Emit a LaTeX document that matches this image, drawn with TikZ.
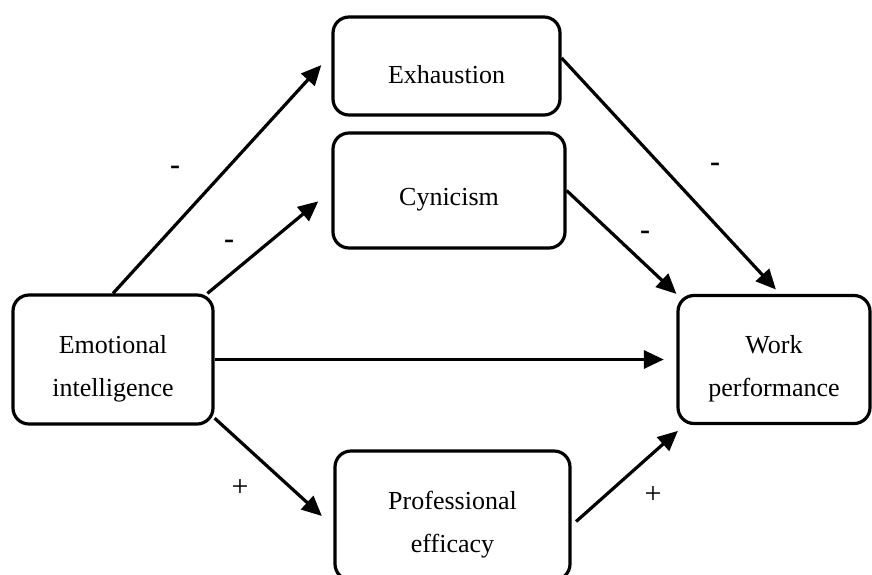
\documentclass[tikz,border=0pt]{standalone}
\usepackage{fontspec}
\setmainfont{Liberation Serif}
\usetikzlibrary{arrows.meta}
% extra room above the first line, so that the text sits a little low in its box
\newcommand{\boxpad}{\rule{0pt}{36pt}}
\begin{document}
\begin{tikzpicture}[x=1pt,y=-1pt,
  box/.style={draw, line width=3.2pt, rounded corners=16pt, align=center,
    inner sep=0pt, font=\fontsize{26pt}{43pt}\selectfont},
  arr/.style={line width=3.2pt, -{Triangle[length=20pt,width=18pt]}},
  sign/.style={inner sep=0pt, font=\fontsize{30pt}{30pt}\selectfont},
  minus/.style={sign, font=\fontsize{30pt}{30pt}\selectfont\bfseries}]
\useasboundingbox (0,0) rectangle (872,574);
\begin{scope}
\clip (0,0) rectangle (872,574);

% variables
\node[box, minimum width=227pt, minimum height=98pt]  (exh) at (446.5,66)    {\boxpad Exhaustion};
\node[box, minimum width=232pt, minimum height=115pt] (cyn) at (449,190.5)   {\boxpad Cynicism};
\node[box, minimum width=200pt, minimum height=129pt] (ei)  at (113,359.5)   {\boxpad Emotional\\intelligence};
\node[box, minimum width=192pt, minimum height=128pt] (wp)  at (774,359.5)   {\boxpad Work\\performance};
\node[box, minimum width=235pt, minimum height=129pt] (pe)  at (452.5,515.5) {\boxpad Professional\\efficacy};

% paths
\draw[arr, shorten >=15pt]   (ei.north) -- ([yshift=12pt]exh.west);
\draw[arr, shorten >=17pt]   (ei.35) -- (cyn.west);
\draw[arr, shorten >=12.6pt] (ei.east) -- (wp.west);
\draw[arr, shorten >=15.6pt] (ei.-30) -- ([yshift=-11pt]pe.west);
\draw[arr, shorten >=6pt]    ([yshift=8pt]exh.east) -- ([xshift=6pt]wp.north);
\draw[arr]                   (cyn.east) -- (wp.north west);
\draw[arr, shorten <=6pt, shorten >=8.7pt] ([yshift=-10pt]pe.east) -- ([xshift=8pt]wp.south west);

% signs of the effects
\node[minus] (s1) at (175,170) {-};
\node[minus] (s2) at (229,244) {-};
\node[minus] (s3) at (715,167) {-};
\node[minus] (s4) at (645,235) {-};
\node[sign]  (s5) at (240,488) {+};
\node[sign]  (s6) at (653,495) {+};
\end{scope}
\end{tikzpicture}
\end{document}
